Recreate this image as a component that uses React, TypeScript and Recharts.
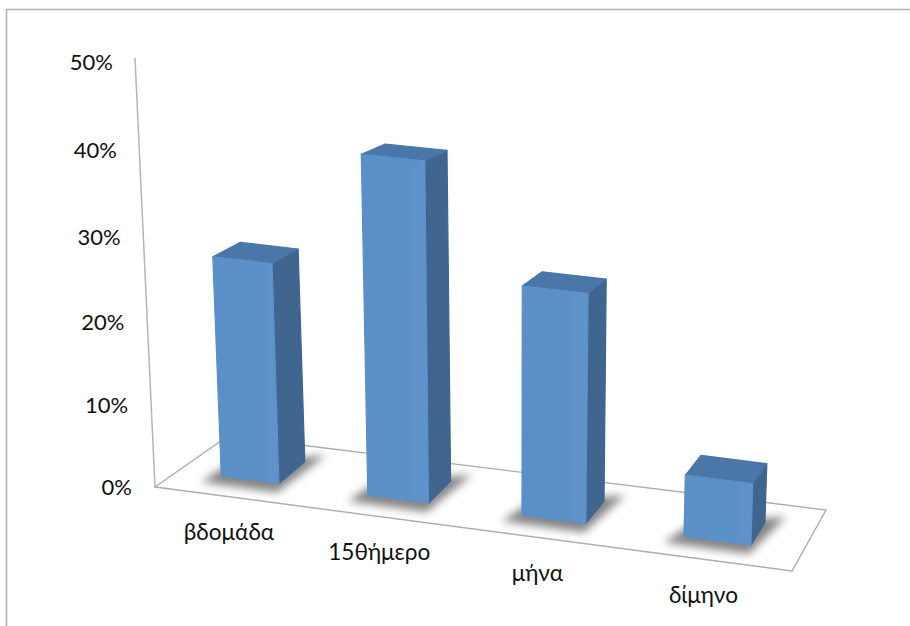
import { BarChart, Bar, XAxis, YAxis } from 'recharts';

const periods = ['βδομάδα', '15θήμερο', 'μήνα', 'δίμηνο'];
const shares = [26, 40, 26.6, 7];
const shareTicks = [0, 10, 20, 30, 40, 50];

const chartData = periods.map((period, i) => ({ period, share: shares[i] }));

const WIDTH = 910;
const HEIGHT = 626;
const PLOT_LEFT = 167.5;
const PLOT_WIDTH = 620;
const PLOT_TOP = 62;
const PLOT_BOTTOM = 487;
const BAND = PLOT_WIDTH / periods.length;
const FONT = 'Lato, "Open Sans", sans-serif';

type Pt = [number, number];

// Flat chart x -> x on the tilted floor (bands get wider towards the viewer)
const warpX = (x: number) => {
  const u = (x - PLOT_LEFT) / BAND;
  return 178.4 + 140.25 * u + 3.875 * u * u;
};

// Flat chart position (x, height above the floor) -> point on the front plane of the bars
const project = (x: number, h: number): Pt => {
  const fx = warpX(x);
  const sx = fx - ((510 - fx) * h) / 7500;
  const sy = 476 + 0.13 * (fx - 221) - h - 0.00007 * h * (fx - 340);
  return [sx, sy];
};

// Same point pushed back by the depth of a bar
const pushBack = ([x, y]: Pt, h: number): Pt => [
  x + 32.8 - 0.025 * x,
  y - (22 - 0.034 * h),
];

const toPath = (pts: Pt[]) =>
  'M' + pts.map((p) => `${p[0].toFixed(1)},${p[1].toFixed(1)}`).join('L') + 'Z';

function Bar3D({ x, y, width, height }: any) {
  const h = height;
  const bl = project(x, 0);
  const br = project(x + width, 0);
  const tl = project(x, h);
  const tr = project(x + width, h);
  const bbr = pushBack(br, 0);
  const tbr = pushBack(tr, h);
  const tbl = pushBack(tl, h);
  const shadow: Pt[] = [
    [bl[0] - 20, bl[1] + 6],
    [br[0] - 2, br[1] + 9],
    [bbr[0] + 21, bbr[1] - 6],
    [bl[0] + 10, bl[1] - 14],
  ];
  const edge = { strokeWidth: 1.2, strokeLinejoin: 'round' as const };
  return (
    <g>
      <path d={toPath(shadow)} fill="#707070" opacity={0.85} filter="url(#barShadow)" />
      <path d={toPath([tr, br, bbr, tbr])} fill="#40658f" stroke="#40658f" {...edge} />
      <path d={toPath([tl, tr, tbr, tbl])} fill="#4a76a8" stroke="#4a76a8" {...edge} />
      <path d={toPath([tl, tr, br, bl])} fill="url(#barFace)" stroke="#5b90c8" {...edge} />
    </g>
  );
}

function ShareTick({ y, payload }: any) {
  const h = PLOT_BOTTOM - y;
  const sy = y + (h * (PLOT_BOTTOM - PLOT_TOP - h)) / 9000;
  const right = 132 - (h * 19) / 425;
  return (
    <text x={right} y={sy} dy={8} textAnchor="end" fontFamily={FONT} fontSize={22} fill="#111">
      {payload.value}%
    </text>
  );
}

function PeriodTick({ x, payload }: any) {
  const fx = warpX(x);
  const sx = fx - 20.5 + 0.0155 * (fx - 250);
  const sy = 533 + 0.133 * (sx - 231);
  return (
    <text x={sx} y={sy} dy={7} textAnchor="middle" fontFamily={FONT} fontSize={22.6} fill="#111">
      {payload.value}
    </text>
  );
}

// Outer frame, wall edge and floor outline behind the bars
function ChartBackdrop() {
  return (
    <g>
      <defs>
        <linearGradient id="barFace" x1="0" x2="1" y1="0" y2="0">
          <stop offset="0" stopColor="#5a8fc8" />
          <stop offset="0.75" stopColor="#5c90c9" />
          <stop offset="1" stopColor="#6193cb" />
        </linearGradient>
        <filter id="barShadow" x="-30%" y="-50%" width="160%" height="200%">
          <feGaussianBlur stdDeviation="4.5" />
        </filter>
      </defs>
      <path d="M6.5,626V9.5H910" fill="none" stroke="#b3b3b3" strokeWidth={1.6} />
      <path d="M135,58L155,487" fill="none" stroke="#b5b5b5" strokeWidth={1.5} />
      <path
        d="M155,487L228,436L826,510L792,571Z"
        fill="none"
        stroke="#adadad"
        strokeWidth={1.4}
      />
    </g>
  );
}

export default function App() {
  return (
    <div style={{ position: 'fixed', left: 0, top: 0, width: WIDTH, height: HEIGHT, background: '#fff' }}>
      <BarChart
        width={WIDTH}
        height={HEIGHT}
        data={chartData}
        margin={{ top: PLOT_TOP, right: WIDTH - PLOT_LEFT - PLOT_WIDTH, bottom: 79, left: PLOT_LEFT - 60 }}
      >
        <ChartBackdrop />
        <XAxis
          dataKey="period"
          height={60}
          axisLine={false}
          tickLine={false}
          interval={0}
          tick={<PeriodTick />}
        />
        <YAxis
          width={60}
          domain={[0, 50]}
          ticks={shareTicks}
          axisLine={false}
          tickLine={false}
          tick={<ShareTick />}
        />
        <Bar dataKey="share" barSize={62} shape={<Bar3D />} isAnimationActive={false} />
      </BarChart>
    </div>
  );
}
